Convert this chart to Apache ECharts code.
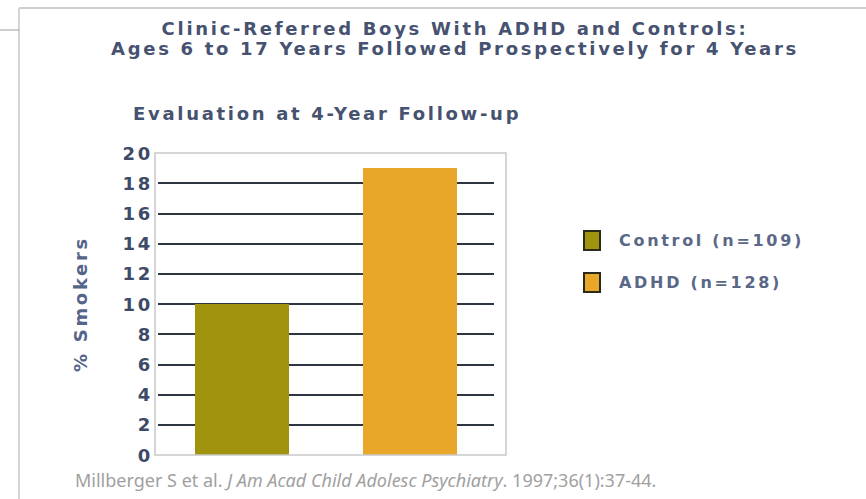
<!DOCTYPE html>
<html lang="en">
<head>
    <meta charset="UTF-8">
    <title>Clinic-Referred Boys With ADHD and Controls</title>
    <script src="https://cdnjs.cloudflare.com/ajax/libs/echarts/6.0.0/echarts.min.js"></script>
    <style>
        * { margin: 0; padding: 0; box-sizing: border-box; }
        body { background: #fff; }
        #chart { width: 866px; height: 499px; }
        /* the bold labels in the original are widely tracked */
        #chart text { letter-spacing: 2.7px; }
        #chart text[style*="Noto"], #chart text[font-family*="Noto"] { letter-spacing: 0; }
    </style>
</head>
<body>
    <div id="chart"></div>
    <script>
        // data
        const categories = ['Control (n=109)', 'ADHD (n=128)'];
        const controlValues = [10, '-'];
        const adhdValues = ['-', 19];
        const barColors = ['#a0940f', '#e9a72a'];

        const font = 'DejaVu Sans';
        const slate = '#46526f';

        // dark inner gridlines, the 0 and 20 lines are the grey box
        const splitColors = [];
        for (let i = 0; i <= 10; i++) splitColors.push(i === 0 || i === 10 ? 'transparent' : '#2e3642');

        const chart = echarts.init(document.getElementById('chart'), null, { renderer: 'svg' });

        const option = {
            backgroundColor: '#fff',
            animation: false,
            title: [{
                text: 'Clinic-Referred Boys With ADHD and Controls:\nAges 6 to 17 Years Followed Prospectively for 4 Years',
                left: 450,
                top: 13,
                textAlign: 'center',
                textStyle: { fontFamily: font, fontWeight: 'bold', fontSize: 18, lineHeight: 20, color: slate }
            }, {
                text: 'Evaluation at 4-Year Follow-up',
                left: 128,
                top: 99,
                textStyle: { fontFamily: font, fontWeight: 'bold', fontSize: 18, color: slate }
            }],
            legend: {
                orient: 'vertical',
                left: 583,
                top: 230,
                padding: 0,
                itemWidth: 16,
                itemHeight: 19,
                itemGap: 21,
                icon: 'rect',
                itemStyle: { borderColor: '#2a2a18', borderWidth: 2 },
                textStyle: { fontFamily: font, fontWeight: 'bold', fontSize: 16, color: '#5a6787', padding: [0, 0, 0, 14] },
                data: categories
            },
            grid: { left: 158, width: 336, top: 153, bottom: 44 },
            xAxis: {
                type: 'category',
                data: categories,
                axisLine: { show: false },
                axisTick: { show: false },
                axisLabel: { show: false }
            },
            yAxis: {
                type: 'value',
                min: 0,
                max: 20,
                interval: 2,
                name: '% Smokers',
                nameLocation: 'middle',
                nameRotate: 90,
                nameGap: 69,
                nameTextStyle: { fontFamily: font, fontWeight: 'bold', fontSize: 18, color: '#55658a' },
                axisLine: { show: false },
                axisTick: { show: false },
                axisLabel: { margin: 5, fontFamily: font, fontWeight: 'bold', fontSize: 18, color: '#3e4a68' },
                splitLine: { lineStyle: { color: splitColors, width: 2 } }
            },
            series: [{
                name: categories[0],
                type: 'bar',
                barWidth: 94,
                barGap: '-100%',
                data: controlValues,
                itemStyle: { color: barColors[0] }
            }, {
                name: categories[1],
                type: 'bar',
                barWidth: 94,
                barGap: '-100%',
                data: adhdValues,
                itemStyle: { color: barColors[1] }
            }],
            graphic: [
                // page frame
                { type: 'line', shape: { x1: 19, y1: 8, x2: 866, y2: 8 }, style: { stroke: '#cfcfcf', lineWidth: 2 } },
                { type: 'line', shape: { x1: 19, y1: 8, x2: 19, y2: 499 }, style: { stroke: '#d4d4d4', lineWidth: 2 } },
                { type: 'line', shape: { x1: 0, y1: 30, x2: 19, y2: 30 }, style: { stroke: '#9a9a9a', lineWidth: 1 } },
                // plot box
                { type: 'rect', z: 10, shape: { x: 155, y: 153, width: 351, height: 302 }, style: { fill: 'none', stroke: '#c9c9c9', lineWidth: 1.5 } },
                // source
                {
                    type: 'text', left: 75, top: 471,
                    style: {
                        text: '{n|Millberger S et al. }{i|J Am Acad Child Adolesc Psychiatry}{n|. 1997;36(1):37-44.}',
                        rich: {
                            n: { fontFamily: 'Noto Sans', fontSize: 18, fill: '#a0a0a0' },
                            i: { fontFamily: 'Noto Sans', fontSize: 18, fontStyle: 'italic', fill: '#a0a0a0' }
                        }
                    }
                }
            ]
        };
        chart.setOption(option);
    </script>
</body>
</html>
